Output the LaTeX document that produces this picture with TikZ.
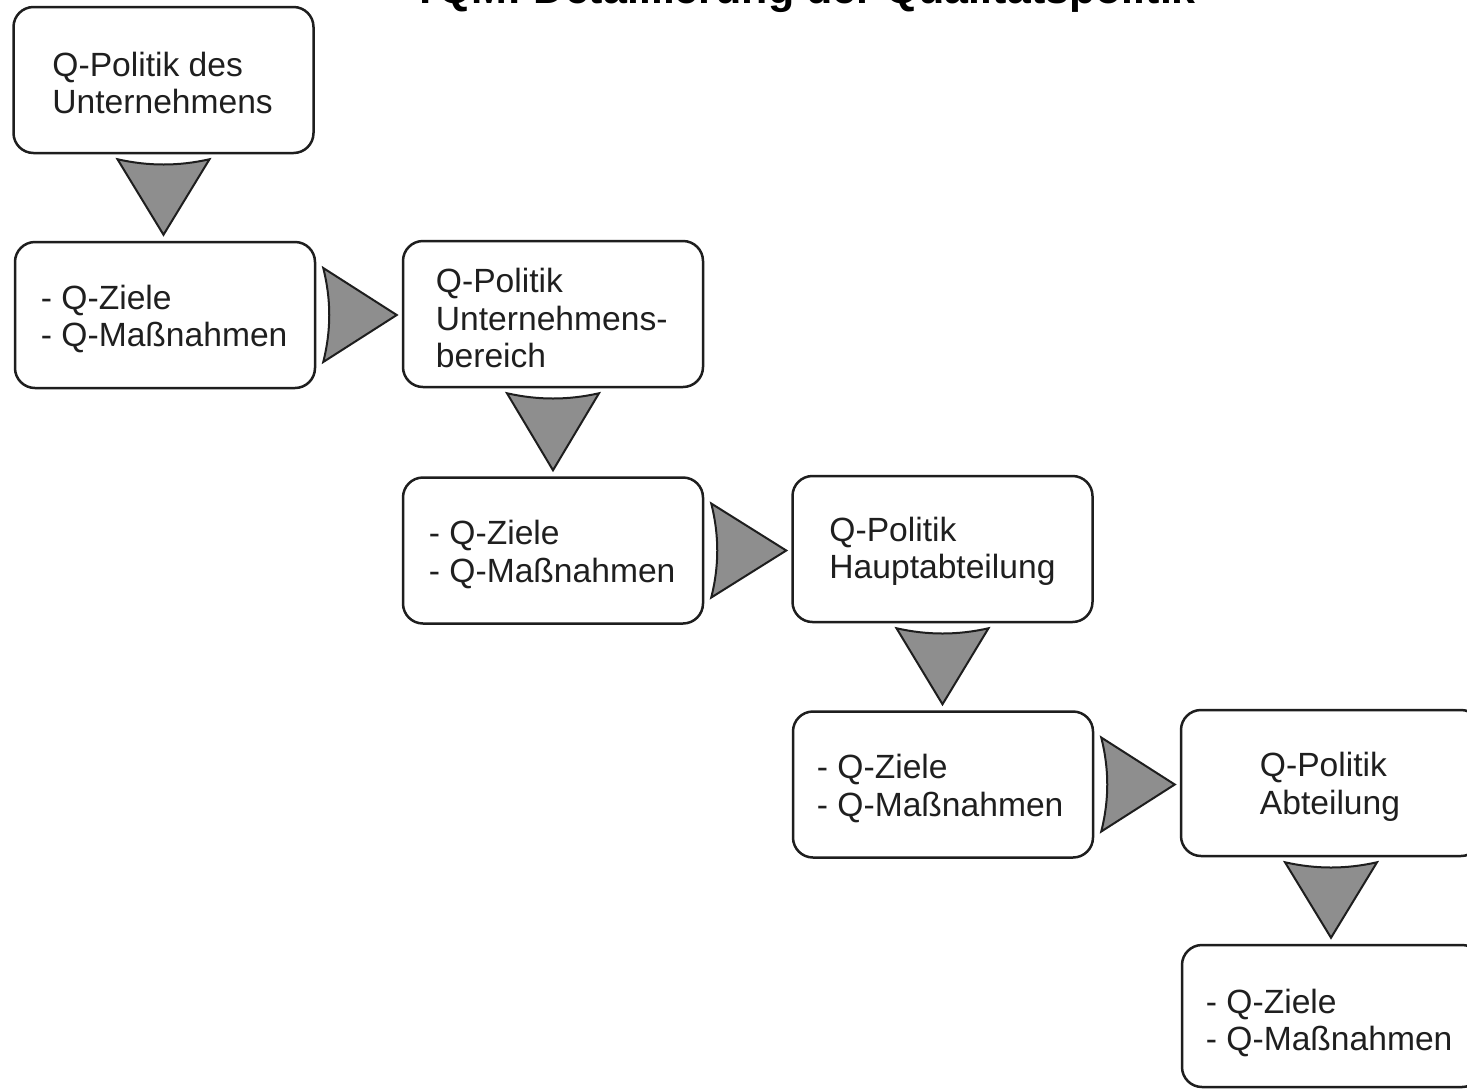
\documentclass[tikz,border=0pt]{standalone}
\usepackage{fontspec}
\setmainfont{Liberation Sans}
\usetikzlibrary{calc}
\definecolor{edge}{HTML}{1E1E1E}
\definecolor{wedge}{HTML}{8E8E8E}
\tikzset{
  box/.style={draw=edge, line width=2.5pt, rounded corners=20pt, fill=white,
    minimum width=300pt, minimum height=146pt, inner sep=0pt},
  lbl/.style={anchor=west, align=left, inner sep=0pt,
    font=\fontsize{33.6}{37.5}\selectfont, text=black!88},
  wedgearrow/.style={fill=wedge, draw=edge, line width=2pt, line join=miter},
  heading/.style={anchor=base west, inner sep=0pt,
    font=\fontsize{43}{47}\selectfont\bfseries}
}
% downward wedge from the bottom of #1 to the top of #2
\newcommand\downwedge[2]{%
  \path[wedgearrow] ($(#1.south)+(-46,5)$)
    .. controls ($(#1.south)+(-15,12)$) and ($(#1.south)+(15,12)$) ..
    ($(#1.south)+(46,5)$) -- ($(#1.south |- #2.north)+(0,-6)$) -- cycle;}
% rightward wedge from the right side of #1 to the left side of #2
\newcommand\rightwedge[2]{%
  \path[wedgearrow] ($(#1.east)+(7,-47)$)
    .. controls ($(#1.east)+(15,-15)$) and ($(#1.east)+(15,15)$) ..
    ($(#1.east)+(7,47)$) -- ($(#1.east -| #2.west)+(-5,0)$) -- cycle;}
\begin{document}
\begin{tikzpicture}[x=1pt,y=-1pt]
\useasboundingbox (0,0) rectangle (1467,1088);
\fill[white] (0,0) rectangle (1467,1088);

\node[heading] (title) at (412,3) {TQM: Detaillierung der Qualitätspolitik};

% boxes
\node[box] (b1) at (163.5,80) {};
\node[box] (b2) at (165,315) {};
\node[box] (b3) at (553,314) {};
\node[box] (b4) at (553,550.5) {};
\node[box] (b5) at (942.5,549) {};
\node[box] (b6) at (943,784.5) {};
\node[box] (b7) at (1331,783) {};
\node[box, minimum height=142pt] (b8) at (1332,1016) {};

% box texts
\node[lbl] (t1) at ($(b1.west)+(40,3)$) {Q-Politik des\\Unternehmens};
\node[lbl] (t2) at ($(b2.west)+(27,4)$) {- Q-Ziele\\- Q-Maßnahmen};
\node[lbl] (t3) at ($(b3.west)+(34,4)$) {Q-Politik\\Unternehmens-\\bereich};
\node[lbl] (t4) at ($(b4.west)+(27,4)$) {- Q-Ziele\\- Q-Maßnahmen};
\node[lbl] (t5) at ($(b5.west)+(38,2.5)$) {Q-Politik\\Hauptabteilung};
\node[lbl] (t6) at ($(b6.west)+(25,4)$) {- Q-Ziele\\- Q-Maßnahmen};
\node[lbl] (t7) at ($(b7.west)+(80,4)$) {Q-Politik\\Abteilung};
\node[lbl] (t8) at ($(b8.west)+(25,7)$) {- Q-Ziele\\- Q-Maßnahmen};

% wedge connectors
\downwedge{b1}{b2}
\rightwedge{b2}{b3}
\downwedge{b3}{b4}
\rightwedge{b4}{b5}
\downwedge{b5}{b6}
\rightwedge{b6}{b7}
\downwedge{b7}{b8}
\end{tikzpicture}
\end{document}
